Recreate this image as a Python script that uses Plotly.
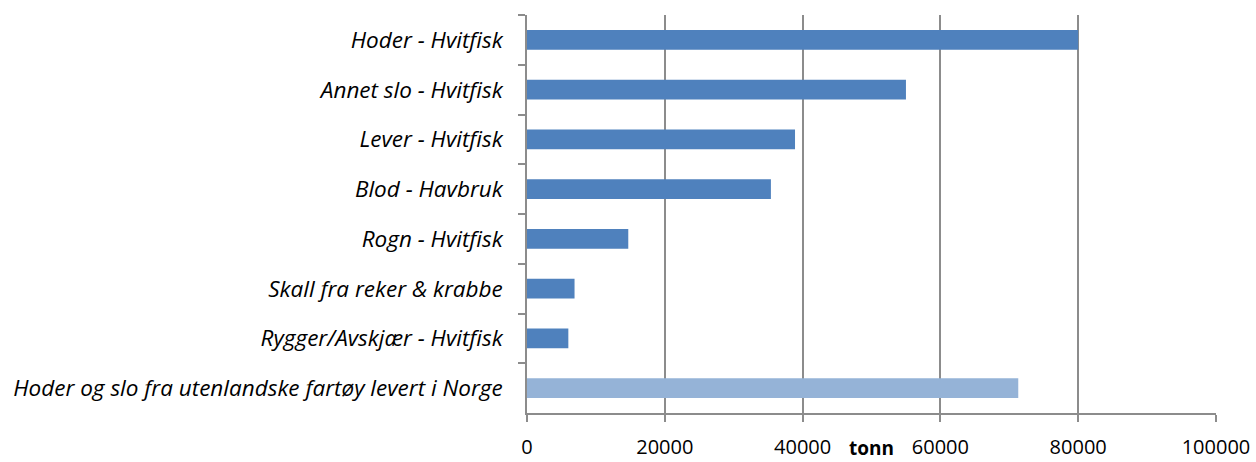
import plotly.graph_objects as go

categories = [
    "Hoder - Hvitfisk",
    "Annet slo - Hvitfisk",
    "Lever - Hvitfisk",
    "Blod - Havbruk",
    "Rogn - Hvitfisk",
    "Skall fra reker & krabbe",
    "Rygger/Avskjær - Hvitfisk",
    "Hoder og slo fra utenlandske fartøy levert i Norge",
]
tonn = [80000, 55000, 38900, 35400, 14700, 6900, 6000, 71300]

_BLUE = "#4f81bd"
_LIGHT = "#95b3d7"
_GRID = "#8c8c8c"
_FONT = "'Open Sans', sans-serif"

colors = [_BLUE] * (len(categories) - 1) + [_LIGHT]

fig = go.Figure(go.Bar(
    y=categories, x=tonn,
    orientation="h",
    marker=dict(color=colors, line=dict(width=0)),
))

fig.update_layout(
    width=1256, height=462,
    paper_bgcolor="white", plot_bgcolor="white",
    font=dict(family=_FONT, size=20, color="black"),
    margin=dict(l=527, r=40, t=15, b=49),
    bargap=0.6,
    showlegend=False,
    annotations=[dict(
        text="<b>tonn</b>", x=0.5, xref="paper", y=-0.088, yref="paper",
        yanchor="middle", showarrow=False, font=dict(size=19),
    )],
)
fig.update_xaxes(
    range=[0, 100000], dtick=20000, tickformat="d", automargin=False,
    showgrid=True, gridcolor=_GRID, gridwidth=1.5,
    showline=True, linecolor=_GRID, linewidth=1.5,
    ticks="outside", ticklen=7, tickcolor=_GRID, tickwidth=1.5,
    tickfont=dict(size=20), ticklabelstandoff=8, ticklabeloverflow="allow",
    zeroline=False,
)
fig.update_yaxes(
    autorange="reversed", tickson="boundaries", automargin=False,
    showline=True, linecolor=_GRID, linewidth=1.5,
    ticks="outside", ticklen=7, tickcolor=_GRID, tickwidth=1.5,
    tickfont=dict(size=22.5, style="italic"),
    ticklabelstandoff=18,
)

# drop the default 8px body margin so the figure fills the window exactly
fig.write_html(
    "out.html",
    config={"displayModeBar": False},
    post_script="document.body.style.margin='0';",
)
